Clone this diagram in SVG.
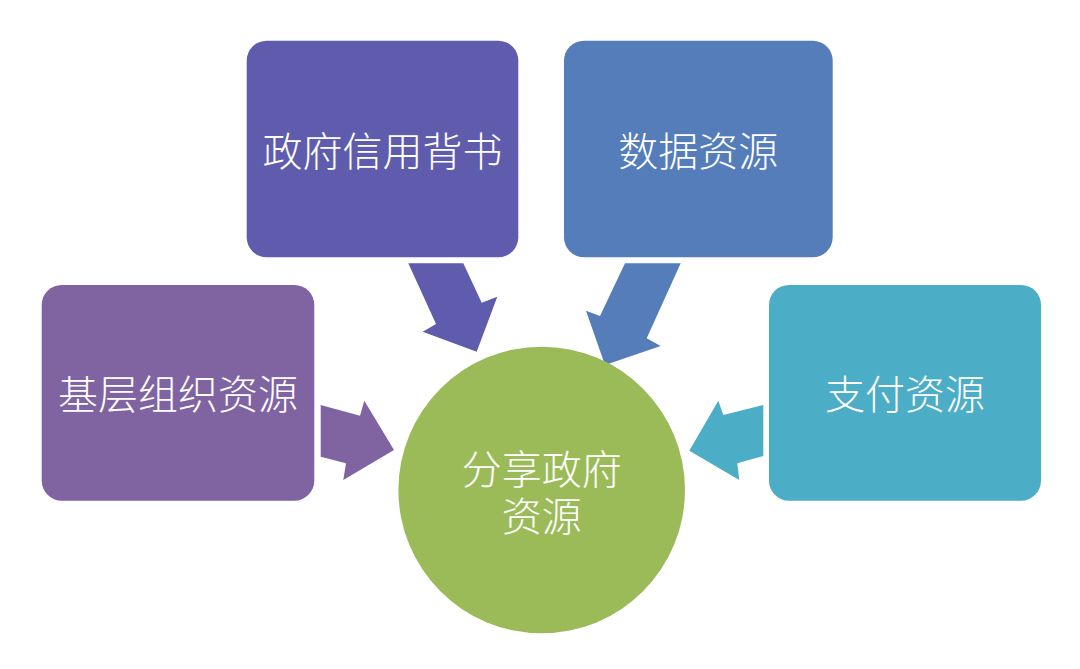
<svg xmlns="http://www.w3.org/2000/svg" width="1080" height="669" viewBox="0 0 1080 669">
<style>
.lbl{font-family:"Noto Sans CJK SC","Noto Sans",sans-serif;font-size:40px;font-weight:300;fill:#ffffff;text-anchor:middle;dominant-baseline:central}
</style>
<rect width="1080" height="669" fill="#ffffff"/>
<g id="connectors">
<polygon points="408.3,263.3 463.3,263.3 481.7,302.7 497.3,296.7 476.7,351.7 422.7,331.7 436,324" fill="#605CAD"/>
<polygon points="625,263.3 680.7,263.3 646.7,338.3 660.7,346 605,365 586,310.7 600,316" fill="#547DBA"/>
<polygon points="320.7,405 360,415.7 364.3,400.7 394,450 343.3,480 346,463.3 320.7,456.7" fill="#7F64A1"/>
<polygon points="763.3,405 723.3,415 718.3,400.7 689.3,450.7 739.3,480 737.3,463.3 763.3,456" fill="#4BADC6"/>
</g>
<g id="node-credit">
<rect x="246.7" y="40.7" width="271.6" height="216.6" rx="20" fill="#605CAD"/>
<text class="lbl" x="382.5" y="149">政府信用背书</text>
</g>
<g id="node-data">
<rect x="564" y="40.7" width="268.7" height="216.6" rx="20" fill="#547DBA"/>
<text class="lbl" x="698.3" y="149">数据资源</text>
</g>
<g id="node-grassroots">
<rect x="41.7" y="285" width="272.6" height="215.7" rx="20" fill="#7F64A1"/>
<text class="lbl" x="178" y="392">基层组织资源</text>
</g>
<g id="node-payment">
<rect x="769" y="285" width="272" height="215.7" rx="20" fill="#4BADC6"/>
<text class="lbl" x="905" y="392">支付资源</text>
</g>
<g id="node-center">
<circle cx="541.7" cy="490" r="143.3" fill="#9BBB59"/>
<text class="lbl"><tspan x="541.7" y="466.7">分享政府</tspan><tspan x="541.7" y="514.3">资源</tspan></text>
</g>
</svg>
